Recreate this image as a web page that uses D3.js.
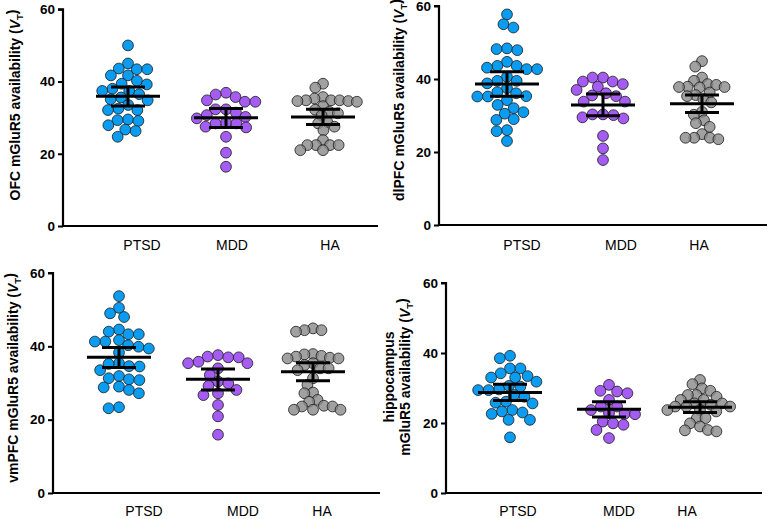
<!DOCTYPE html>
<html><head><meta charset="utf-8">
<script src="https://cdn.jsdelivr.net/npm/d3@7"></script>
<style>body{margin:0;background:#fff}svg{display:block}</style>
</head><body>
<svg id="c" width="770" height="519"></svg>
<script>
const categories = ["PTSD", "MDD", "HA"];
const yTicks = [0, 20, 40, 60];

const ofcPTSD = [50.0,43.4,43.4,45.0,43.6,41.7,41.7,39.4,40.2,39.2,37.4,36.5,37.4,35.1,34.8,33.5,32.1,32.1,32.5,29.1,29.3,29.5,27.9,26.3,26.7,24.7,35.6,38.0];
const ofcMDD = [36.9,34.4,34.8,34.4,35.7,36.4,32.3,32.3,31.4,30.7,29.8,28.4,27.3,27.5,28.4,28.6,24.7,20.3,16.4,30.2];
const ofcHA = [39.4,38.3,34.8,34.8,35.7,34.8,34.4,34.6,35.3,34.6,33.2,31.6,30.6,28.8,28.4,26.5,27.5,22.4,22.4,23.8,22.4,22.4,21.0,21.0,32.2,31.2];
const ofcMean = [35.9, 30.0, 30.2];
const ofcLow = [33.2, 27.3, 28.1];
const ofcHigh = [38.5, 32.5, 32.3];

const dlpfcPTSD = [57.7,54.1,55.0,47.9,48.4,48.2,44.7,43.6,42.7,43.1,42.7,43.6,39.5,37.5,40.6,39.5,35.2,36.1,36.4,35.2,35.3,32.0,30.9,32.9,30.5,28.8,29.0,26.0,25.7,23.0,34.2,38.8];
const dlpfcMDD = [39.3,39.3,40.4,40.4,38.6,36.1,35.3,37.0,37.9,35.5,33.8,33.8,30.3,29.2,30.3,29.5,30.1,24.4,21.0,17.8];
const dlpfcHA = [44.9,43.4,40.4,39.5,38.4,38.6,37.9,37.7,37.8,37.8,35.6,36.3,35.3,33.6,31.0,30.2,27.9,28.7,26.9,23.9,23.9,24.9,23.5,23.9,34.5];
const dlpfcMean = [38.6, 32.9, 33.2];
const dlpfcLow = [35.3, 29.9, 30.8];
const dlpfcHigh = [42.0, 35.9, 35.6];

const vmpfcPTSD = [53.7,50.5,48.0,49.0,41.7,44.0,43.3,43.3,44.6,41.3,39.9,40.3,39.4,41.3,35.2,33.5,34.5,35.4,34.6,31.0,31.3,30.8,31.9,28.1,29.0,28.8,27.2,23.1,23.4,38.3];
const vmpfcMDD = [37.0,37.2,37.6,37.0,35.8,35.4,35.4,34.0,32.2,29.2,30.4,29.9,28.1,27.2,26.7,24.0,20.9,15.9];
const vmpfcHA = [44.4,44.4,44.0,44.9,37.8,37.9,36.9,36.7,37.2,36.7,37.4,34.9,34.0,33.5,35.4,34.0,29.5,31.3,27.2,27.4,25.4,24.9,22.7,23.6,23.8,22.7,22.7,23.6];
const vmpfcMean = [37.0, 31.0, 33.1];
const vmpfcLow = [34.2, 28.1, 30.6];
const vmpfcHigh = [39.7, 33.8, 35.5];

const hippPTSD = [39.2,38.5,35.6,35.6,34.2,33.0,33.4,33.0,31.8,30.4,29.4,29.6,30.6,29.4,28.0,27.5,25.8,26.1,25.6,23.7,22.6,23.3,23.0,20.9,20.9,15.9];
const hippMDD = [30.9,29.2,29.0,28.5,22.5,24.7,26.6,24.7,22.8,22.6,19.5,20.4,19.9,18.0,15.7,23.7];
const hippHA = [32.3,31.1,29.9,29.2,28.0,28.0,27.5,25.2,26.6,25.6,26.6,25.6,23.7,24.7,23.7,24.7,23.3,21.4,21.4,19.9,19.0,17.9,18.0,17.6,24.7];
const hippMean = [28.7, 23.9, 24.5];
const hippLow = [26.4, 21.7, 23.0];
const hippHigh = [31.1, 26.1, 26.1];

const colors = ["#0a9cf0", "#a55cf2", "#8a8a8a"];
const FONT = "'Liberation Sans', Arial, Helvetica, sans-serif";

const panels = [
  {title:["OFC mGluR5 availability ("], groups:[ofcPTSD, ofcMDD, ofcHA], mean:ofcMean, low:ofcLow, high:ofcHigh,
   x0:63, x1:378, yT:9.3, yB:226, gx:[128,226,323], lx:[142,232,330], ly:245, tx:15, ty:105},
  {title:["dlPFC mGluR5 availability ("], groups:[dlpfcPTSD, dlpfcMDD, dlpfcHA], mean:dlpfcMean, low:dlpfcLow, high:dlpfcHigh,
   x0:439, x1:767, yT:6, yB:225, gx:[507,603,702], lx:[522,621,699], ly:245, tx:399, ty:100},
  {title:["vmPFC mGluR5 availability ("], groups:[vmpfcPTSD, vmpfcMDD, vmpfcHA], mean:vmpfcMean, low:vmpfcLow, high:vmpfcHigh,
   x0:53, x1:380, yT:273, yB:493, gx:[119,218,313], lx:[144,243,322], ly:511, tx:13, ty:378},
  {title:["hippocampus","mGluR5 availability ("], groups:[hippPTSD, hippMDD, hippHA], mean:hippMean, low:hippLow, high:hippHigh,
   x0:446, x1:762, yT:283, yB:493, gx:[510,609,700], lx:[518,619,687], ly:511, tx:397, ty:377}
];

const svg = d3.select("#c");
const R = 5.4;

function swarm(vals, y, cx, minD) {
  const pts = vals.map(v => ({v, y: y(v)})).sort((a,b) => a.y - b.y);
  const placed = [];
  pts.forEach(p => {
    const forb = [];
    placed.forEach(q => {
      const dy = Math.abs(q.y - p.y);
      if (dy < minD) {
        const dx = Math.sqrt(minD*minD - dy*dy);
        forb.push([q.dx - dx, q.dx + dx]);
      }
    });
    let cands = [0];
    forb.forEach(f => { cands.push(f[0], f[1]); });
    cands.sort((a,b) => Math.abs(a) - Math.abs(b));
    let best = 0;
    for (const c of cands) {
      if (forb.every(f => c <= f[0] + 1e-6 || c >= f[1] - 1e-6)) { best = c; break; }
    }
    p.dx = best;
    placed.push(p);
  });
  return placed.map(p => ({v:p.v, x: cx + p.dx, y: p.y}));
}

panels.forEach(P => {
  const y = d3.scaleLinear().domain([0, 60]).range([P.yB, P.yT]);
  const x = d3.scaleOrdinal().domain(categories).range(P.gx);
  const xl = d3.scaleOrdinal().domain(categories).range(P.lx);
  const g = svg.append("g");

  // y axis
  const ya = g.append("g").attr("transform", `translate(${P.x0},0)`)
    .call(d3.axisLeft(y).tickValues(yTicks).tickSize(5).tickPadding(3).tickFormat(d3.format("d")));
  ya.select(".domain").attr("stroke", "#000").attr("stroke-width", 2.2).attr("d", `M-5,${P.yT}H0V${P.yB}`);
  ya.selectAll(".tick line").attr("stroke", "#000").attr("stroke-width", 2);
  ya.selectAll(".tick text").attr("font-family", FONT).attr("font-size", 13.5).attr("font-weight", "bold").attr("fill", "#000");

  // x axis
  g.append("line").attr("x1", P.x0 - 1).attr("x2", P.x1).attr("y1", P.yB).attr("y2", P.yB)
    .attr("stroke", "#000").attr("stroke-width", 2.2);
  g.selectAll(".xl").data(categories).enter().append("text")
    .attr("x", d => xl(d)).attr("y", P.ly).attr("dy", "0.35em")
    .attr("text-anchor", "middle").attr("font-family", FONT).attr("font-size", 14).attr("fill", "#000")
    .text(d => d);

  // points
  categories.forEach((c, i) => {
    const minD = i === 2 ? 2*R*0.8 : 2*R*0.97;
    const pts = swarm(P.groups[i], y, x(c), minD);
    g.append("g").selectAll("circle").data(pts).enter().append("circle")
      .attr("cx", d => d.x).attr("cy", d => d.y).attr("r", R)
      .attr("fill", colors[i]).attr("fill-opacity", i === 2 ? 0.8 : 1)
      .attr("stroke", "#1a1a1a").attr("stroke-width", 0.8);
  });

  // mean & error
  categories.forEach((c, i) => {
    const cx = x(c);
    const eg = g.append("g").attr("stroke", "#000").attr("stroke-width", 3);
    eg.append("line").attr("x1", cx - 32).attr("x2", cx + 32).attr("y1", y(P.mean[i])).attr("y2", y(P.mean[i]));
    eg.append("line").attr("x1", cx).attr("x2", cx).attr("y1", y(P.low[i])).attr("y2", y(P.high[i]));
    eg.append("line").attr("x1", cx - 17).attr("x2", cx + 17).attr("y1", y(P.low[i])).attr("y2", y(P.low[i]));
    eg.append("line").attr("x1", cx - 17).attr("x2", cx + 17).attr("y1", y(P.high[i])).attr("y2", y(P.high[i]));
  });

  // y title
  const n = P.title.length;
  const t = g.append("text").attr("transform", `translate(${P.tx},${P.ty}) rotate(-90)`)
    .attr("text-anchor", "middle").attr("font-family", FONT).attr("font-size", 14).attr("font-weight", "bold").attr("fill", "#000");
  P.title.forEach((line, k) => {
    t.append("tspan").attr("x", 0).attr("dy", k === 0 ? `${-(n-1)*0.55 + 0.35}em` : "1.1em").text(line);
    if (k === n - 1) {
      t.append("tspan").attr("font-style", "italic").text("V");
      t.append("tspan").attr("font-size", 9.5).attr("dy", "0.35em").text("T");
      t.append("tspan").attr("dy", "-0.45em").text(")");
    }
  });
});
</script>
</body></html>
